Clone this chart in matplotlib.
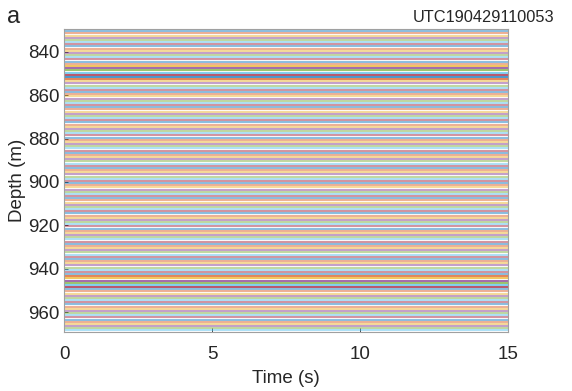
import numpy as np
import matplotlib
matplotlib.use("Agg")
import matplotlib.pyplot as plt

plt.rcParams['font.family'] = ['Liberation Sans', 'DejaVu Sans']

# Data
depth_start = 830.5      # m, first channel
depth_end = 968.5        # m, last channel
channel_spacing = 1.0    # m
time_range = [0.0, 15.0] # s
energetic_bands = [(846.5, 852.5), (943.5, 948.5)]  # depths with stronger noise
xticks = [0, 5, 10, 15]
yticks = [840, 860, 880, 900, 920, 940, 960]
label_id = "UTC190429110053"

depths = np.arange(depth_start, depth_end + 0.01, channel_spacing)

matlab_colors = ['#0072BD', '#D95319', '#EDB120', '#7E2F8E',
                 '#77AC30', '#4DBEEE', '#A2142F']

fig = plt.figure(figsize=(5.72, 3.91), dpi=100)
ax = fig.add_axes([0.112, 0.151, 0.776, 0.775])

for i, d in enumerate(depths):
    strong = any(lo <= d <= hi for lo, hi in energetic_bands)
    c = matlab_colors[i % len(matlab_colors)]
    ax.plot(time_range, [d, d], color=c, lw=1.5,
            alpha=0.7 if strong else 0.45, solid_capstyle='butt')

ax.set_xlim(0, 15)
ax.set_ylim(969.2, 829.4)
ax.set_xticks(xticks)
ax.set_yticks(yticks)
ax.tick_params(direction='in', length=3, labelsize=13.5, colors='#262626',
               top=False, right=False, width=0.6)
ax.tick_params(axis='x', pad=10)
for s in ax.spines.values():
    s.set_color('#a0a0a0')
    s.set_linewidth(0.8)
ax.set_xlabel("Time (s)", fontsize=13.5, color='#262626', labelpad=5)
ax.set_ylabel("Depth (m)", fontsize=13.5, color='#262626', labelpad=1)
fig.text(0.012, 0.957, "a", fontsize=17, color='#262626', ha='left', va='center')
fig.text(0.969, 0.955, label_id, fontsize=11.8, color='#262626', ha='right', va='center')

fig.savefig("out.png", dpi=100)
